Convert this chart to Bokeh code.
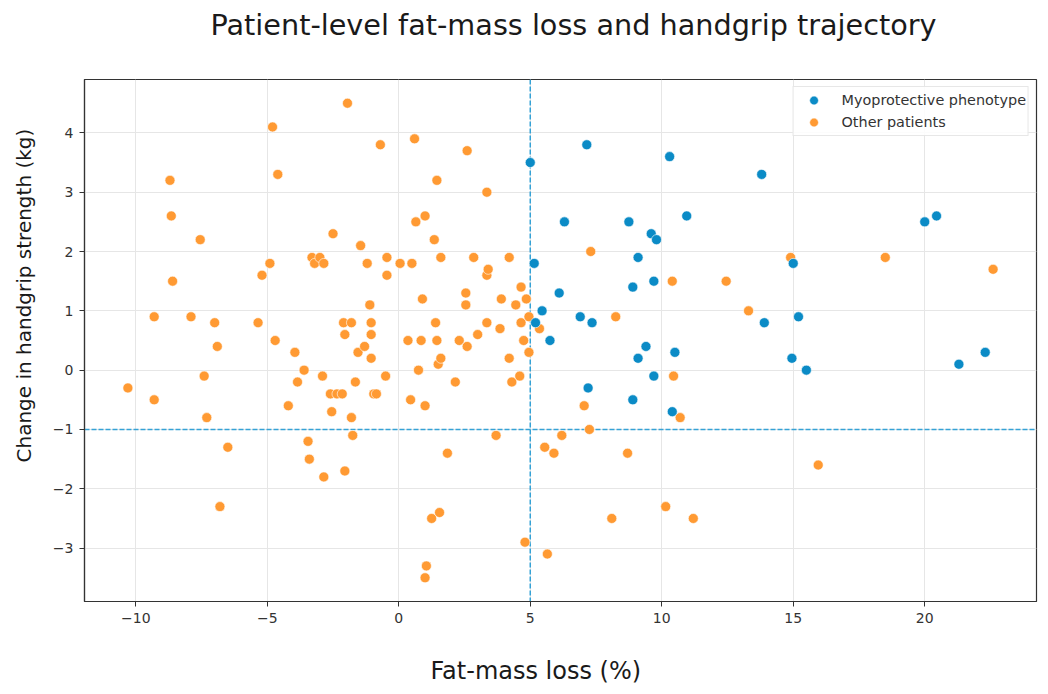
import math
from bokeh.plotting import figure
from bokeh.models import Span, FixedTicker, Range1d, Legend, LegendItem, Title
from bokeh.embed import file_html
from bokeh.resources import INLINE

# Myoprotective phenotype
myo_x = [5.0, 7.15, 10.3, 13.8, 6.3, 8.75, 9.6, 9.8, 10.95, 20.0, 20.45, 5.15, 9.1, 15.0,
         6.1, 8.9, 9.7, 5.45, 5.2, 6.9, 7.35, 5.75, 13.9, 15.2, 9.4, 9.1, 10.5, 14.95, 15.5,
         21.3, 22.3, 7.2, 8.9, 9.7, 10.4]
myo_y = [3.5, 3.8, 3.6, 3.3, 2.5, 2.5, 2.3, 2.2, 2.6, 2.5, 2.6, 1.8, 1.9, 1.8,
         1.3, 1.4, 1.5, 1.0, 0.8, 0.9, 0.8, 0.5, 0.8, 0.9, 0.4, 0.2, 0.3, 0.2, 0.0,
         0.1, 0.3, -0.3, -0.5, -0.1, -0.7]

# Other patients
oth_x = [-10.3, -9.3, -9.3, -8.7, -8.65, -8.6, -7.9, -7.55, -7.4, -7.3, -7.0, -6.9, -6.8, -6.5,
         -5.35, -5.2, -4.9, -4.8, -4.7, -4.6, -4.2, -3.95, -3.85, -3.6, -3.45, -3.4, -3.3, -3.2,
         -3.0, -2.85, -2.9, -2.85, -2.6, -2.55, -2.5, -2.35, -2.15, -2.1, -2.05, -2.05, -1.95,
         -1.8, -1.8, -1.75, -1.65, -1.55, -1.45, -1.3, -1.2, -1.1, -1.05, -1.05, -1.05, -0.95,
         -0.85, -0.7, -0.5, -0.45, -0.45, 0.05, 0.35, 0.45, 0.5, 0.6, 0.65, 0.75, 0.85, 0.9,
         1.0, 1.0, 1.05, 1.0, 1.25, 1.35, 1.4, 1.45, 1.45, 1.5, 1.55, 1.6, 1.6, 1.85, 2.15,
         2.3, 2.55, 2.55, 2.6, 2.6, 2.85, 3.0, 3.35, 3.35, 3.4, 3.35, 3.7, 3.85, 3.9, 4.2, 4.2,
         4.3, 4.45, 4.6, 4.65, 4.65, 4.75, 4.8, 4.85, 4.95, 4.95, 5.35, 5.55, 5.65, 5.9, 6.2,
         7.05, 7.25, 7.3, 8.1, 8.25, 8.7, 10.15, 10.4, 10.45, 10.7, 11.2, 12.45, 13.3, 14.9,
         15.95, 18.5, 22.6]
oth_y = [-0.3, 0.9, -0.5, 3.2, 2.6, 1.5, 0.9, 2.2, -0.1, -0.8, 0.8, 0.4, -2.3, -1.3,
         0.8, 1.6, 1.8, 4.1, 0.5, 3.3, -0.6, 0.3, -0.2, 0.0, -1.2, -1.5, 1.9, 1.8,
         1.9, 1.8, -0.1, -1.8, -0.4, -0.7, 2.3, -0.4, -0.4, 0.8, 0.6, -1.7, 4.5,
         0.8, -0.8, -1.1, -0.2, 0.3, 2.1, 0.4, 1.8, 1.1, 0.8, 0.6, 0.2, -0.4,
         -0.4, 3.8, -0.1, 1.9, 1.6, 1.8, 0.5, -0.5, 1.8, 3.9, 2.5, 0.0, 0.5, 1.2,
         2.6, -0.6, -3.3, -3.5, -2.5, 2.2, 0.8, 3.2, 0.5, 0.1, -2.4, 0.2, 1.9, -1.4, -0.2,
         0.5, 1.3, 1.1, 0.4, 3.7, 1.9, 0.6, 3.0, 1.6, 1.7, 0.8, -1.1, 0.7, 1.2, 1.9, 0.2,
         -0.2, 1.1, -0.1, 1.4, 0.8, 0.5, -2.9, 1.2, 0.9, 0.3, 0.7, -1.3, -3.1, -1.4, -1.1,
         -0.6, -1.0, 2.0, -2.5, 0.9, -1.4, -2.3, 1.5, -0.1, -0.8, -2.5, 1.5, 1.0, 1.9,
         -1.6, 1.9, 1.7]

x_ticks = [-10, -5, 0, 5, 10, 15, 20]
y_ticks = [-3, -2, -1, 0, 1, 2, 3, 4]
fat_threshold = 5
grip_threshold = -1

title_text = "Patient-level fat-mass loss and handgrip trajectory"
x_label = "Fat-mass loss (%)"
y_label = "Change in handgrip strength (kg)"
legend_labels = ["Myoprotective phenotype", "Other patients"]

FONT = "DejaVu Sans"
BLUE = "#0b8bc6"
ORANGE = "#ff9a33"
DASH = "#35a2d6"

p = figure(width=1040, height=693, output_backend="svg", toolbar_location=None,
           x_range=Range1d(-11.95, 24.25), y_range=Range1d(-3.9, 4.9),
           min_border_left=84, min_border_right=4, min_border_top=79, min_border_bottom=92)

# main title (trailing blank line lifts it away from the frame)
p.title.text = title_text + "\n"
p.title.text_font = FONT
p.title.text_font_size = "28.7px"
p.title.text_font_style = "normal"
p.title.text_color = "#1a1a1a"
p.title.text_line_height = 1.11
p.title.align = "left"
p.title.offset = 126
p.title.vertical_align = "bottom"
p.title.standoff = 0

p.background_fill_color = "white"
p.border_fill_color = "white"
p.outline_line_color = "#333333"
p.outline_line_width = 1.2

for ax in (p.xaxis[0], p.yaxis[0]):
    ax.axis_line_color = "#333333"
    ax.axis_line_width = 1.2
    ax.major_tick_line_color = "#333333"
    ax.major_tick_out = 5
    ax.major_tick_in = 0
    ax.minor_tick_line_color = None
    ax.major_label_text_font = FONT
    ax.major_label_text_font_size = "14px"
    ax.major_label_text_color = "#333333"
    ax.major_label_standoff = 6

p.xaxis.ticker = FixedTicker(ticks=x_ticks)
p.yaxis.ticker = FixedTicker(ticks=y_ticks)
p.xaxis.major_label_overrides = {t: (str(t).replace("-", "\u2212")) for t in x_ticks}
p.yaxis.major_label_overrides = {t: (str(t).replace("-", "\u2212")) for t in y_ticks}

p.xgrid.ticker = FixedTicker(ticks=x_ticks)
p.ygrid.ticker = FixedTicker(ticks=y_ticks)
p.grid.grid_line_color = "#e6e6e6"
p.grid.grid_line_width = 1

p.add_layout(Span(location=fat_threshold, dimension="height", line_color=DASH,
                  line_width=1.5, line_dash="5 2", level="underlay"))
p.add_layout(Span(location=grip_threshold, dimension="width", line_color=DASH,
                  line_width=1.5, line_dash="5 2", level="underlay"))

r_oth = p.scatter(oth_x, oth_y, size=10, marker="circle", fill_color=ORANGE,
                  line_color="white", line_width=0.6)
r_myo = p.scatter(myo_x, myo_y, size=10, marker="circle", fill_color=BLUE,
                  line_color="white", line_width=0.6)

legend = Legend(items=[LegendItem(label=legend_labels[0], renderers=[r_myo]),
                       LegendItem(label=legend_labels[1], renderers=[r_oth])],
                location="top_right")
legend.label_text_font = FONT
legend.label_text_font_size = "14.4px"
legend.label_text_color = "#333333"
legend.margin = 7
legend.padding = 2
legend.spacing = 0
legend.label_standoff = 10
legend.glyph_width = 36
legend.glyph_height = 22
legend.label_height = 22
legend.border_line_color = "#d0d0d0"
legend.border_line_width = 1
legend.background_fill_alpha = 0.85
p.add_layout(legend, "center")

# x-axis label (leading blank line pushes it down inside its panel)
xlab = Title(text="\n" + x_label, text_font=FONT, text_font_size="24px", text_font_style="normal",
             text_color="#1a1a1a", text_line_height=0.97, align="left", offset=346,
             vertical_align="bottom", standoff=6)
p.add_layout(xlab, "below")

ylab = Title(text=y_label, text_font=FONT, text_font_size="20px", text_font_style="normal",
             text_color="#1a1a1a", align="left", offset=139, vertical_align="top", standoff=23)
p.add_layout(ylab, "left")

open("out.html", "w").write(file_html(p, INLINE))
